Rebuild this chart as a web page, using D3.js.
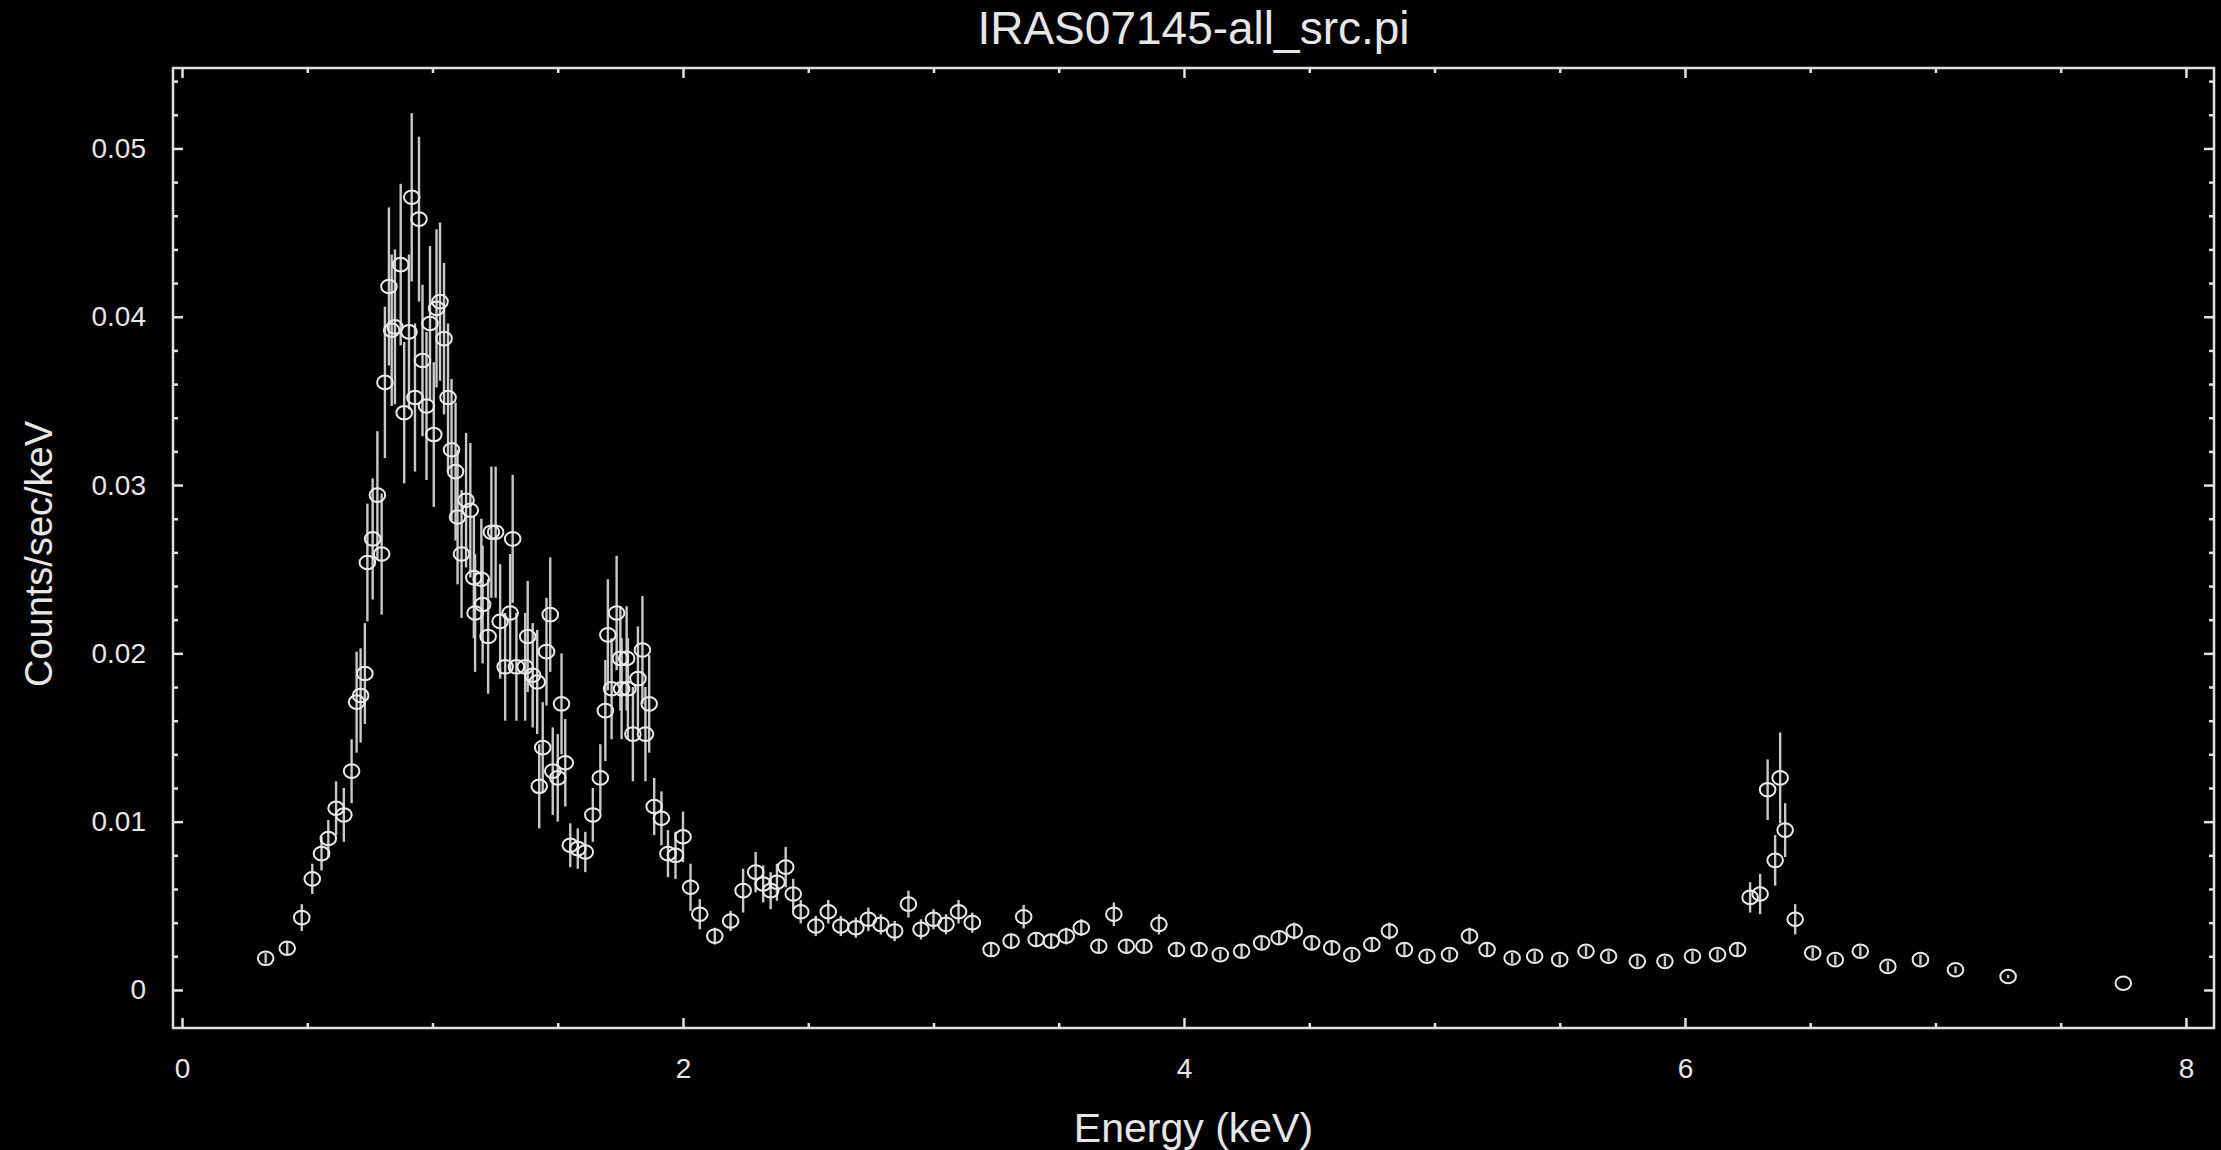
<!DOCTYPE html>
<html>
<head>
<meta charset="utf-8">
<script src="https://cdn.jsdelivr.net/npm/d3@7"></script>
<style>
  html, body { margin: 0; padding: 0; background: #000; }
  svg { display: block; }
  text { font-family: "Liberation Sans", Arial, Helvetica, sans-serif; fill: #e6e6e6; }
</style>
</head>
<body>
<svg id="chart" width="2221" height="1150"></svg>
<script>
// Spectrum of IRAS07145 (all sources), counts/sec/keV against energy
const titleText = "IRAS07145-all_src.pi";
const xLabel = "Energy (keV)";
const yLabel = "Counts/sec/keV";

const energy = [
  0.334, 0.42, 0.478, 0.52, 0.557, 0.584, 0.615, 0.646, 0.677, 0.697,
  0.713, 0.73, 0.74, 0.761, 0.78, 0.797, 0.81, 0.826, 0.837, 0.85,
  0.873, 0.887, 0.906, 0.917, 0.93, 0.946, 0.96, 0.976, 0.99, 1.005,
  1.016, 1.03, 1.046, 1.062, 1.076, 1.092, 1.10, 1.116, 1.134, 1.151,
  1.165, 1.17, 1.195, 1.20, 1.222, 1.235, 1.252, 1.27, 1.29, 1.31,
  1.32, 1.335, 1.37, 1.38, 1.40, 1.418, 1.426, 1.44, 1.455, 1.47,
  1.48, 1.50, 1.515, 1.53, 1.55, 1.58, 1.61, 1.64, 1.67, 1.69,
  1.70, 1.715, 1.735, 1.75, 1.755, 1.775, 1.78, 1.80, 1.82, 1.838,
  1.85, 1.865, 1.885, 1.914, 1.94, 1.97, 2.00, 2.03, 2.067, 2.127,
  2.19, 2.24, 2.29, 2.32, 2.35, 2.375, 2.41, 2.44, 2.47, 2.53,
  2.58, 2.63, 2.69, 2.74, 2.79, 2.845, 2.90, 2.95, 3.00, 3.05,
  3.10, 3.155, 3.23, 3.31, 3.36, 3.41, 3.47, 3.53, 3.59, 3.66,
  3.72, 3.77, 3.84, 3.90, 3.97, 4.06, 4.145, 4.23, 4.31, 4.38,
  4.44, 4.51, 4.59, 4.67, 4.75, 4.82, 4.88, 4.97, 5.06, 5.14,
  5.21, 5.31, 5.40, 5.50, 5.605, 5.695, 5.81, 5.92, 6.03, 6.13,
  6.21, 6.26, 6.30, 6.33, 6.36, 6.38, 6.40, 6.44, 6.51, 6.60,
  6.70, 6.81, 6.94, 7.08, 7.29, 7.75
];

const rate = [
  0.00188, 0.00248, 0.0043, 0.0066, 0.0081, 0.0090, 0.0108, 0.0104, 0.0130, 0.0171,
  0.0175, 0.0188, 0.0254, 0.0268, 0.0294, 0.0259, 0.0361, 0.0418, 0.0392, 0.0394,
  0.0431, 0.0343, 0.0391, 0.0471, 0.0352, 0.0458, 0.0374, 0.0347, 0.0396, 0.0330,
  0.0405, 0.0409, 0.0387, 0.0352, 0.0321, 0.0308, 0.0281, 0.0259, 0.0291, 0.0285,
  0.0245, 0.0224, 0.0244, 0.0229, 0.0210, 0.0272, 0.0272, 0.0219, 0.0192, 0.0224,
  0.0268, 0.0192, 0.0192, 0.0210, 0.0187, 0.0183, 0.0121, 0.0144, 0.0201, 0.0223,
  0.0130, 0.0126, 0.0170, 0.0135, 0.0086, 0.0084, 0.0082, 0.0104, 0.0126, 0.0166,
  0.0211, 0.0179, 0.0224, 0.0197, 0.0179, 0.0197, 0.0179, 0.0152, 0.0185, 0.0202,
  0.0152, 0.0170, 0.0109, 0.0102, 0.0081, 0.0080, 0.0091, 0.0061, 0.0045, 0.0032,
  0.0041, 0.0059, 0.0070, 0.0063, 0.0059, 0.0064, 0.0073, 0.0057, 0.00465, 0.0038,
  0.00465, 0.0038, 0.0037, 0.0042, 0.0039, 0.0035, 0.0051, 0.0036, 0.0042, 0.0039,
  0.00465, 0.0040, 0.0024, 0.0029, 0.00435, 0.0030, 0.0029, 0.0032, 0.0037, 0.0026,
  0.0045, 0.0026, 0.0026, 0.0039, 0.0024, 0.0024, 0.0021, 0.0023, 0.0028, 0.0031,
  0.0035, 0.0028, 0.0025, 0.0021, 0.0027, 0.0035, 0.0024, 0.0020, 0.0021, 0.0032,
  0.0024, 0.0019, 0.0020, 0.0018, 0.0023, 0.0020, 0.0017, 0.0017, 0.0020, 0.0021,
  0.0024, 0.0055, 0.0057, 0.0119, 0.0077, 0.0126, 0.0095, 0.0042, 0.0022, 0.0018,
  0.0023, 0.0014, 0.0018, 0.0012, 0.0008, 0.0004
];

const rateErr = [
  0.0003, 0.0004, 0.0008, 0.0009, 0.0010, 0.0011, 0.0016, 0.0016, 0.0019, 0.0030,
  0.0028, 0.0030, 0.0035, 0.0036, 0.0038, 0.0036, 0.0045, 0.0047, 0.0045, 0.0046,
  0.0048, 0.0042, 0.0046, 0.0050, 0.0044, 0.0049, 0.0045, 0.0044, 0.0046, 0.0043,
  0.0047, 0.0047, 0.0045, 0.0044, 0.0042, 0.0041, 0.0040, 0.0038, 0.0040, 0.0040,
  0.0036, 0.0035, 0.0036, 0.0035, 0.0034, 0.0039, 0.0039, 0.0034, 0.0032, 0.0035,
  0.0038, 0.0032, 0.0032, 0.0033, 0.0031, 0.0031, 0.0025, 0.0027, 0.0032, 0.0034,
  0.0026, 0.0026, 0.0030, 0.0026, 0.0013, 0.0012, 0.0012, 0.0016, 0.0020, 0.0030,
  0.0033, 0.0030, 0.0034, 0.0031, 0.0030, 0.0031, 0.0030, 0.0028, 0.0031, 0.0032,
  0.0028, 0.0029, 0.0017, 0.0016, 0.0014, 0.0014, 0.0015, 0.0014, 0.0009, 0.0005,
  0.0006, 0.0013, 0.0012, 0.0011, 0.0011, 0.0011, 0.0012, 0.0009, 0.0007, 0.0006,
  0.0007, 0.0006, 0.0006, 0.0007, 0.0006, 0.0006, 0.0008, 0.0006, 0.0006, 0.0006,
  0.0007, 0.0006, 0.0004, 0.0004, 0.0007, 0.0004, 0.0004, 0.0005, 0.0005, 0.0004,
  0.0007, 0.0004, 0.0004, 0.0006, 0.0004, 0.0004, 0.0003, 0.0004, 0.0004, 0.0004,
  0.0005, 0.0004, 0.0004, 0.0003, 0.0004, 0.0005, 0.0004, 0.0003, 0.0003, 0.0005,
  0.0004, 0.0003, 0.0003, 0.0003, 0.0003, 0.0003, 0.0003, 0.0003, 0.0003, 0.0003,
  0.0004, 0.0009, 0.0012, 0.0018, 0.0015, 0.0027, 0.0016, 0.0009, 0.0003, 0.0003,
  0.0003, 0.0003, 0.0003, 0.0002, 0.0001, 0.0000
];

const xMajorTicks = [0, 2, 4, 6, 8];
const xTickLabels = ["0", "2", "4", "6", "8"];
const yMajorTicks = [0, 0.01, 0.02, 0.03, 0.04, 0.05];
const yTickLabels = ["0", "0.01", "0.02", "0.03", "0.04", "0.05"];

// Plot frame in page pixels
const frame = { left: 173, right: 2214, top: 68, bottom: 1028 };

const x = d3.scaleLinear().domain([-0.036, 8.112]).range([frame.left, frame.right]);
const y = d3.scaleLinear().domain([-0.00226, 0.05478]).range([frame.bottom, frame.top]);

const svg = d3.select("#chart");
svg.append("rect").attr("width", 2221).attr("height", 1150).attr("fill", "#000");

const points = energy.map((e, i) => ({ e, r: rate[i], err: rateErr[i] }));

// minor tick positions
const xMinor = d3.range(0, 8.01, 0.5).filter(v => !xMajorTicks.includes(v));
const yMinor = d3.range(0, 0.0545, 0.002).filter(v => Math.abs(v * 100 - Math.round(v * 100)) > 1e-6);

function styleAxis(g) {
  g.select(".domain").remove();
  g.selectAll(".tick line").attr("stroke", "#e0e0e0").attr("stroke-width", 2.5);
}

// bottom axis: major ticks with labels, minor ticks
const axisB = svg.append("g").attr("transform", `translate(0,${frame.bottom})`);
axisB.append("g").call(d3.axisBottom(x).tickValues(xMinor).tickSize(-5).tickFormat("")).call(styleAxis);
const bMaj = axisB.append("g").call(
  d3.axisBottom(x).tickValues(xMajorTicks).tickSize(-10).tickPadding(30)
    .tickFormat((d, i) => xTickLabels[i])
).call(styleAxis);
bMaj.selectAll("text").attr("font-size", 28).attr("fill", "#e6e6e6")
  .style("font-family", '"Liberation Sans", Arial, sans-serif');

// top axis: ticks only
const axisT = svg.append("g").attr("transform", `translate(0,${frame.top})`);
axisT.append("g").call(d3.axisTop(x).tickValues(xMinor).tickSize(-5).tickFormat("")).call(styleAxis);
axisT.append("g").call(d3.axisTop(x).tickValues(xMajorTicks).tickSize(-10).tickFormat("")).call(styleAxis);

// left axis: major ticks with labels, minor ticks
const axisL = svg.append("g").attr("transform", `translate(${frame.left},0)`);
axisL.append("g").call(d3.axisLeft(y).tickValues(yMinor).tickSize(-5).tickFormat("")).call(styleAxis);
const lMaj = axisL.append("g").call(
  d3.axisLeft(y).tickValues(yMajorTicks).tickSize(-10).tickPadding(27)
    .tickFormat((d, i) => yTickLabels[i])
).call(styleAxis);
lMaj.selectAll("text").attr("font-size", 28).attr("fill", "#e6e6e6")
  .style("font-family", '"Liberation Sans", Arial, sans-serif');

// right axis: ticks only
const axisR = svg.append("g").attr("transform", `translate(${frame.right},0)`);
axisR.append("g").call(d3.axisRight(y).tickValues(yMinor).tickSize(-5).tickFormat("")).call(styleAxis);
axisR.append("g").call(d3.axisRight(y).tickValues(yMajorTicks).tickSize(-10).tickFormat("")).call(styleAxis);

// frame
svg.append("rect")
  .attr("x", frame.left).attr("y", frame.top)
  .attr("width", frame.right - frame.left).attr("height", frame.bottom - frame.top)
  .attr("fill", "none").attr("stroke", "#e0e0e0").attr("stroke-width", 2.5);

// vertical error bars
svg.append("g").selectAll("line").data(points).join("line")
  .attr("x1", d => x(d.e)).attr("x2", d => x(d.e))
  .attr("y1", d => y(d.r - d.err)).attr("y2", d => y(d.r + d.err))
  .attr("stroke", "#c8c8c8").attr("stroke-width", 2.4);

// open circle markers
svg.append("g").selectAll("ellipse").data(points).join("ellipse")
  .attr("cx", d => x(d.e)).attr("cy", d => y(d.r))
  .attr("rx", 7.8).attr("ry", 6.8)
  .attr("fill", "none").attr("stroke", "#e8e8e8").attr("stroke-width", 2);

// title and axis labels
const cx = (frame.left + frame.right) / 2;
svg.append("text").attr("x", cx).attr("y", 44).attr("text-anchor", "middle")
  .attr("font-size", 46).text(titleText);
svg.append("text").attr("x", cx).attr("y", 1142).attr("text-anchor", "middle")
  .attr("font-size", 41).text(xLabel);
svg.append("text").attr("transform", `translate(52,${(frame.top + frame.bottom) / 2 + 6}) rotate(-90)`)
  .attr("text-anchor", "middle").attr("font-size", 38).text(yLabel);
</script>
</body>
</html>
